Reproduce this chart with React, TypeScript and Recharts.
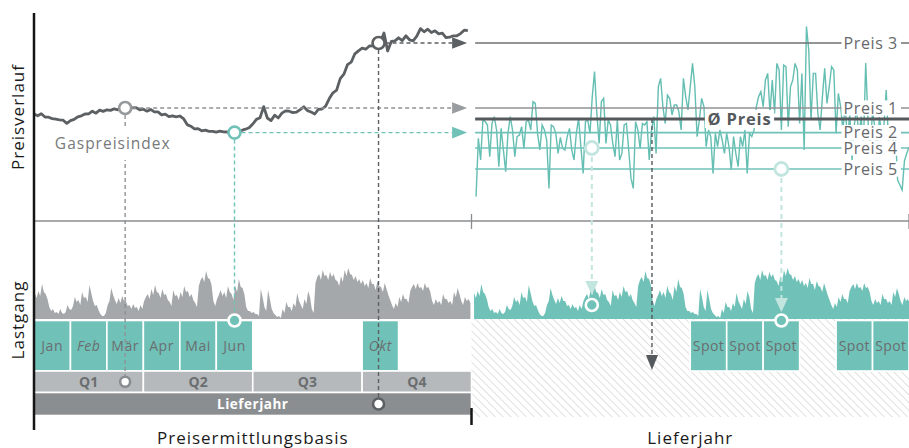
import React from 'react';
import {
  ComposedChart,
  Line,
  Area,
  XAxis,
  YAxis,
  ReferenceLine,
  ReferenceArea,
  ReferenceDot,
} from 'recharts';

// ---------------- data ----------------
// Gas price index during the price-finding year, one value every 0.1 month (months 0..11.9)
const indexPrices = [
  53.5, 52.6, 53.6, 52.0, 51.9, 51.2, 50.9, 50.6, 50.4, 48.8,
  50.2, 50.8, 52.1, 52.6, 53.5, 53.6, 54.9, 53.9, 55.4, 54.8,
  55.6, 55.3, 56.1, 55.6, 56.6, 56.5, 57.2, 56.6, 56.7, 55.6,
  55.9, 54.9, 55.8, 54.6, 54.6, 53.1, 53.4, 52.2, 52.6, 52.1,
  52.5, 51.2, 48.2, 47.4, 46.1, 46.2, 45.1, 45.4, 44.8, 44.8,
  44.4, 44.9, 44.6, 44.5, 43.8, 44.2, 44.9, 45.3, 45.9, 46.6,
  48.5, 50.8, 51.6, 57.2, 51.5, 50.2, 52.9, 51.5, 53.9, 55.1,
  54.9, 54.2, 54.4, 55.7, 57.1, 55.2, 54.5, 53.5, 55.8, 56.0,
  57.4, 61.2, 64.1, 65.4, 71.2, 73.4, 78.2, 79.4, 83.6, 85.1,
  86.4, 85.9, 87.5, 87.6, 88.5, 89.5, 94, 85, 89.8, 90.1,
  91.6, 90.2, 92.6, 90.6, 90.1, 92.4, 96.2, 94.6, 95.9, 94.2,
  95.1, 93.6, 93.9, 91.7, 91.9, 92.6, 92.6, 93.7, 95.4, 95.2,
];
const INDEX_STEP = 0.1;

// Spot prices in the delivery year, one value every 1/16 month from month 12.125 to 24
const spotPrices = [
  12.2, 41.3, 30.5, 50.5, 49.7, 48, 32.2, 48.8, 52.2, 45.5,
  27.2, 46.3, 35.5, 24.7, 43.8, 52.2, 45.5, 32.2, 42.2, 43,
  47.2, 36.3, 49.7, 50.5, 45.5, 59.7, 58.8, 43.8, 35.5, 48,
  45.5, 40.5, 16.3, 48, 47.2, 43.8, 33.8, 41.8, 36.3, 35.5,
  42.2, 46.3, 35.5, 30.5, 43.8, 51.3, 37.2, 23.8, 49.7, 50.5,
  43.8, 62.2, 74.7, 53.8, 38.8, 59.7, 61.3, 38.8, 50.5, 48,
  38.8, 32.2, 50.5, 30.5, 33.8, 48, 48.8, 35.5, 21.3, 16.3,
  49.7, 45.5, 36.3, 48.8, 48, 49.7, 30.5, 45.5, 52.2, 33.8,
  67.2, 71.3, 57.2, 48.8, 63, 61.3, 53, 58, 58, 54.7,
  45.5, 71.3, 62.2, 55.5,
  67.2, 78.8, 67.2, 42.2, 50.5, 61.3, 57.2, 37.2, 45.5, 42.2,
  23.8, 43.8, 37.2, 45.5, 40.5, 33.8, 43.8, 37.2, 25.5, 42.2,
  33.8, 27.2, 42.2, 37.2, 45.5, 23.8, 43.8, 42.2, 45.5, 57.2,
  62.2, 64.7, 57.2, 70.5, 73.8, 53.8, 70.5, 53.8, 78.8, 75.5,
  45.5, 78, 77.2, 47.2, 67.2, 70.5, 78.8, 75.5, 48.8, 73.8,
  35.5, 97.2, 85.5, 50.5, 73.8, 73.8, 53.8, 45.5, 62.2, 76.3,
  58.8, 67.2, 77.2, 75.5, 43.8, 63.8,
  57.2, 45.5, 58, 40.5, 53.8, 30.5, 48, 56, 42.2, 52.2,
  38, 79, 50.5, 36, 55, 47, 33, 52, 44, 48,
  65.5, 40, 46, 40, 45, 20.5, 18, 15.5, 30, 33.8, 37,
];
const SPOT_START = 12 + 2 / 16;
const SPOT_STEP = 1 / 16;

// Load profile (Lastgang), one value every 0.05 month; same profile in both years
const loadProfile = [
  26, 21, 28, 23, 35, 27, 25, 20, 12, 8, 10, 6, 7, 5, 10, 6, 5, 7, 14, 10,
  9, 13, 22, 17, 19, 14, 27, 21, 22, 17, 34, 26, 18, 13, 14, 9, 5, 3, 3, 6,
  14, 18, 31, 24, 19, 15, 21, 16, 23, 18, 18, 13, 14, 10, 15, 11, 12, 8, 14, 10,
  18, 22, 25, 20, 30, 24, 34, 27, 26, 21, 30, 24, 25, 19, 17, 13, 29, 23, 24, 19,
  27, 22, 33, 27, 28, 22, 25, 19, 16, 12, 33, 39, 42, 37, 48, 41, 40, 34, 18, 13,
  20, 24, 29, 23, 27, 21, 33, 27, 25, 19, 33, 27, 40, 32, 31, 25, 12, 8, 8, 6,
  7, 5, 5, 3, 30, 22, 12, 8, 29, 20, 10, 6, 4, 2, 3, 1, 10, 6, 17, 12,
  12, 8, 16, 12, 26, 18, 14, 10, 20, 15, 28, 22, 10, 6, 36, 42, 45, 39, 49, 43,
  44, 39, 47, 42, 45, 39, 38, 33, 43, 37, 49, 43, 51, 45, 44, 39, 43, 37, 40, 35,
  39, 33, 36, 31, 41, 35, 35, 29, 38, 33, 32, 27, 36, 30, 24, 19, 14, 10, 16, 12,
  22, 17, 25, 20, 20, 16, 28, 32, 35, 30, 36, 31, 32, 28, 36, 31, 32, 27, 18, 14,
  20, 16, 18, 14, 25, 20, 20, 16, 18, 14, 27, 22, 31, 25, 18, 14, 22, 18, 20, 16,
];
const LOAD_STEP = 0.05;
const LOAD_PAST_START = 0.02;
const LOAD_DELIVERY_START = 12.07;

const monthLabels = ['Jan', 'Feb', 'Mär', 'Apr', 'Mai', 'Jun', 'Jul', 'Aug', 'Sep', 'Okt', 'Nov', 'Dez'];
const purchasedMonths = ['Jan', 'Feb', 'Mär', 'Apr', 'Mai', 'Jun', 'Okt'];
const italicMonths = ['Feb', 'Okt'];
const quarterLabels = ['Q1', 'Q2', 'Q3', 'Q4'];
const spotMonths = ['Jul', 'Aug', 'Sep', 'Nov', 'Dez'];
const monthTicks = Array.from({ length: 25 }, (_, i) => i);

// fixing dates on the index (months) -> Preis 1, Preis 2, Preis 3
const fixingMonths = [2.5, 5.5, 9.45];
const preis4 = 36.5;
const preis5 = 26;
const avgPrice = 51;
// spot fixing months for Preis 4 / Preis 5, and the month where the average is used
const spotFixMonths = [15.3, 20.5];
const avgMonth = 16.95;

// ---------------- layout (shared price/layout axis units) ----------------
const Y_MIN = -98;
const Y_MAX = 104;
const HATCH_TOP = -49;
const MONTH_TOP = -49.75;
const MONTH_BOTTOM = -75;
const Q_BOTTOM = -85.75;
const YEAR_BOTTOM = -97.25;

const FONT = '"Open Sans", "Noto Sans", sans-serif';
const TEAL = '#70c2b8';
const TEAL_LINE = '#64beb2';
const TEAL_LIGHT = '#c3e5e0';
const DARK = '#5c6063';
const GRAY_MID = '#8f9294';
const GRAY_LOAD = '#a5a8aa';
const Q_FILL = '#b6b9bb';
const YEAR_FILL = '#8b8e90';
const TEXT_GRAY = '#6b6e70';

// ---------------- build table ----------------
type Row = { m: number; index?: number; spot?: number; loadPast?: number; loadDelivery?: number };
const rowMap = new Map<string, Row>();
const put = (m: number, key: keyof Row, v: number) => {
  const k = m.toFixed(4);
  let r = rowMap.get(k);
  if (!r) {
    r = { m: Number(m.toFixed(4)) };
    rowMap.set(k, r);
  }
  (r as any)[key] = v;
};
indexPrices.forEach((v, i) => put(i * INDEX_STEP, 'index', v));
loadProfile.forEach((v, i) => {
  put(LOAD_PAST_START + i * LOAD_STEP, 'loadPast', v);
  put(LOAD_DELIVERY_START + i * LOAD_STEP, 'loadDelivery', v);
});
spotPrices.forEach((v, i) => put(SPOT_START + i * SPOT_STEP, 'spot', v));
const rows = Array.from(rowMap.values()).sort((a, b) => a.m - b.m);

const valueAt = (arr: number[], start: number, step: number, m: number) => {
  const t = (m - start) / step;
  const i = Math.max(0, Math.min(arr.length - 1, Math.floor(t)));
  const f = t - i;
  const j = Math.min(arr.length - 1, i + 1);
  return arr[i] * (1 - f) + arr[j] * f;
};

// ---------------- shapes ----------------
type ArrowOpts = { color: string; dash?: string; width?: number; head?: number; headW?: number; headColor?: string };
const arrowShape = (o: ArrowOpts) => (p: any) => {
  const x1 = Number(p.x1), y1 = Number(p.y1), x2 = Number(p.x2), y2 = Number(p.y2);
  const head = o.head ?? 0;
  const hw = o.headW ?? 6;
  const dx = x2 - x1;
  const dy = y2 - y1;
  const len = Math.hypot(dx, dy) || 1;
  const ux = dx / len;
  const uy = dy / len;
  const bx = x2 - ux * head;
  const by = y2 - uy * head;
  const px = -uy;
  const py = ux;
  return (
    <g>
      <line
        x1={x1}
        y1={y1}
        x2={head ? bx : x2}
        y2={head ? by : y2}
        stroke={o.color}
        strokeWidth={o.width ?? 1.4}
        strokeDasharray={o.dash}
      />
      {head > 0 && (
        <polygon
          points={`${x2},${y2} ${bx + px * hw},${by + py * hw} ${bx - px * hw},${by - py * hw}`}
          fill={o.headColor ?? o.color}
        />
      )}
    </g>
  );
};

type TextOpts = {
  fill: string;
  color: string;
  size: number;
  weight?: number;
  italic?: boolean;
  align?: 'start' | 'middle';
  pad?: number;
  ls?: number;
  stroke?: string;
};
const boxShape = (text: string, o: TextOpts) => (p: any) => {
  const x = Number(p.x), y = Number(p.y), w = Number(p.width), h = Number(p.height);
  return (
    <g>
      <rect x={x} y={y} width={w} height={h} fill={o.fill} stroke={o.stroke ?? 'none'} strokeWidth={o.stroke ? 1.6 : 0} />
      {text ? (
        <text
          x={o.align === 'start' ? x + (o.pad ?? 2) : x + w / 2}
          y={y + h / 2}
          dy="0.36em"
          textAnchor={o.align ?? 'middle'}
          fontFamily={FONT}
          fontSize={o.size}
          fontWeight={o.weight ?? 400}
          fontStyle={o.italic ? 'italic' : 'normal'}
          letterSpacing={o.ls ?? 0}
          fill={o.color}
        >
          {text}
        </text>
      ) : null}
    </g>
  );
};

const hatchShape = (p: any) => (
  <g>
    <defs>
      <pattern id="hatchPattern" patternUnits="userSpaceOnUse" width="5.5" height="5.5" patternTransform="rotate(-45)">
        <rect width="5.5" height="5.5" fill="#ffffff" />
        <line x1="0" y1="0" x2="0" y2="5.5" stroke="#d9d9d9" strokeWidth="1.6" />
      </pattern>
    </defs>
    <rect x={p.x} y={p.y} width={p.width} height={p.height} fill="url(#hatchPattern)" />
  </g>
);

const titleShape = (text: string, rotate: boolean) => (p: any) => (
  <text
    x={p.cx}
    y={p.cy}
    dy="0.36em"
    textAnchor="middle"
    transform={rotate ? `rotate(-90 ${p.cx} ${p.cy})` : undefined}
    fontFamily={FONT}
    fontSize={17}
    letterSpacing={1}
    fill="#1a1a1a"
  >
    {text}
  </text>
);

export default function App() {
  const fixPrices = fixingMonths.map((m) => valueAt(indexPrices, 0, INDEX_STEP, m));
  const [preis1, preis2, preis3] = fixPrices;
  const ARROW_END = 11.88;
  const RIGHT_START = 12.1;
  const LABEL_X1 = 22.15;
  const LABEL_X2 = 23.78;
  const Q_MID = (MONTH_BOTTOM + Q_BOTTOM) / 2;
  const YEAR_MID = (Q_BOTTOM + YEAR_BOTTOM) / 2;

  const fixColors = [GRAY_MID, TEAL, DARK];
  const fixTargets = [Q_MID, MONTH_TOP, YEAR_MID];

  const rightLines = [
    { name: 'Preis 3', v: preis3, color: '#6e7173', w: 1.6 },
    { name: 'Preis 1', v: preis1, color: '#8f9294', w: 1.6 },
    { name: 'Preis 2', v: preis2, color: TEAL, w: 1.6 },
    { name: 'Preis 4', v: preis4, color: TEAL, w: 1.6 },
    { name: 'Preis 5', v: preis5, color: TEAL, w: 1.6 },
  ];

  return (
    <div style={{ position: 'absolute', left: 0, top: 0, width: 909, height: 448, background: '#fff' }}>
      <ComposedChart width={909} height={448} data={rows} margin={{ top: 13, right: 0, bottom: 31, left: 34 }}>
        <XAxis
          dataKey="m"
          type="number"
          domain={[0, 24]}
          allowDataOverflow
          ticks={monthTicks}
          interval={0}
          tick={false}
          tickSize={8}
          height={0}
          axisLine={{ stroke: '#151515', strokeWidth: 2.5 }}
          tickLine={{ stroke: '#151515', strokeWidth: 2.5 }}
        />
        <YAxis yAxisId="p" type="number" domain={[Y_MIN, Y_MAX]} allowDataOverflow hide />
        <YAxis yAxisId="load" type="number" domain={[-98, 306]} allowDataOverflow hide />

        {/* hatched delivery area */}
        <ReferenceArea yAxisId="p" x1={12} x2={24} y1={Y_MIN} y2={HATCH_TOP} shape={hatchShape} zIndex={10} />

        {/* load profiles */}
        <Area
          yAxisId="load"
          dataKey="loadPast"
          type="linear"
          stroke="none"
          fill={GRAY_LOAD}
          fillOpacity={1}
          baseValue={0}
          connectNulls
          dot={false}
          activeDot={false}
          isAnimationActive={false}
          zIndex={20}
        />
        <Area
          yAxisId="load"
          dataKey="loadDelivery"
          type="linear"
          stroke="none"
          fill={TEAL}
          fillOpacity={1}
          baseValue={0}
          connectNulls
          dot={false}
          activeDot={false}
          isAnimationActive={false}
          zIndex={20}
        />

        {/* month boxes */}
        {monthLabels.map((lab, i) =>
          purchasedMonths.includes(lab) ? (
            <ReferenceArea
              key={'mb' + lab}
              yAxisId="p"
              x1={i}
              x2={i + 1}
              y1={MONTH_BOTTOM}
              y2={MONTH_TOP}
              zIndex={30}
              shape={boxShape(lab, {
                fill: TEAL,
                stroke: '#fff',
                color: TEXT_GRAY,
                size: 14,
                ls: 0.6,
                italic: italicMonths.includes(lab),
              })}
            />
          ) : null
        )}
        {quarterLabels.map((q, i) => (
          <ReferenceArea
            key={'q' + q}
            yAxisId="p"
            x1={i * 3}
            x2={i * 3 + 3}
            y1={Q_BOTTOM}
            y2={MONTH_BOTTOM}
            zIndex={30}
            shape={boxShape(q, { fill: Q_FILL, stroke: '#fff', color: TEXT_GRAY, size: 14, weight: 700 })}
          />
        ))}
        <ReferenceArea
          yAxisId="p"
          x1={0}
          x2={12}
          y1={YEAR_BOTTOM}
          y2={Q_BOTTOM}
          zIndex={30}
          shape={boxShape('Lieferjahr', { fill: YEAR_FILL, stroke: '#fff', color: '#ffffff', size: 13.5, weight: 700, ls: 0.5 })}
        />
        {spotMonths.map((lab) => {
          const i = monthLabels.indexOf(lab) + 12;
          return (
            <ReferenceArea
              key={'s' + lab}
              yAxisId="p"
              x1={i}
              x2={i + 1}
              y1={MONTH_BOTTOM}
              y2={MONTH_TOP}
              zIndex={30}
              shape={boxShape('Spot', { fill: TEAL, stroke: '#fff', color: TEXT_GRAY, size: 14, ls: 0.4 })}
            />
          );
        })}

        {/* divider between panels */}
        <ReferenceLine yAxisId="p" y={0} stroke="#8a8d8f" strokeWidth={1.5} zIndex={40} />
        <ReferenceLine
          yAxisId="p"
          segment={[{ x: 12, y: 3.5 }, { x: 12, y: -4 }]}
          stroke="#8a8d8f"
          strokeWidth={1.3}
          zIndex={40}
        />
        <ReferenceLine
          yAxisId="p"
          segment={[{ x: 24, y: 3.5 }, { x: 24, y: -4 }]}
          stroke="#8a8d8f"
          strokeWidth={1.3}
          zIndex={40}
        />

        {/* spot price line */}
        <Line
          yAxisId="p"
          dataKey="spot"
          type="linear"
          stroke={TEAL_LINE}
          strokeWidth={1.4}
          dot={false}
          activeDot={false}
          connectNulls
          isAnimationActive={false}
          zIndex={50}
        />

        {/* price levels in delivery year */}
        {rightLines.map((l) => (
          <ReferenceLine
            key={'rl' + l.name}
            yAxisId="p"
            segment={[{ x: RIGHT_START, y: l.v }, { x: 24, y: l.v }]}
            stroke={l.color}
            strokeWidth={l.w}
            zIndex={60}
          />
        ))}
        <ReferenceLine
          yAxisId="p"
          segment={[{ x: RIGHT_START, y: avgPrice }, { x: 24, y: avgPrice }]}
          stroke="#55595c"
          strokeWidth={3}
          zIndex={60}
        />
        {rightLines.map((l) => (
          <ReferenceArea
            key={'lb' + l.name}
            yAxisId="p"
            x1={LABEL_X1}
            x2={LABEL_X2}
            y1={l.v - 3.8}
            y2={l.v + 3.8}
            zIndex={65}
            shape={boxShape(l.name, { fill: '#fff', color: '#66696b', size: 16, align: 'start', pad: 2, ls: 0.6 })}
          />
        ))}
        <ReferenceArea
          yAxisId="p"
          x1={18.4}
          x2={20.3}
          y1={avgPrice - 4.5}
          y2={avgPrice + 4.5}
          zIndex={65}
          shape={boxShape('Ø Preis', { fill: '#fff', color: '#55595c', size: 16.5, weight: 700, ls: 0.8 })}
        />

        {/* gas price index */}
        <Line
          yAxisId="p"
          dataKey="index"
          type="linear"
          stroke={DARK}
          strokeWidth={2.8}
          strokeLinejoin="round"
          dot={false}
          activeDot={false}
          connectNulls
          isAnimationActive={false}
          zIndex={70}
        />

        {/* connectors from index fixings */}
        {fixingMonths.map((m, i) => (
          <ReferenceLine
            key={'h' + i}
            yAxisId="p"
            segment={[{ x: m, y: fixPrices[i] }, { x: ARROW_END, y: fixPrices[i] }]}
            zIndex={80}
            shape={arrowShape({
              color: fixColors[i],
              dash: '4 3',
              width: 1.4,
              head: 15,
              headW: 5.8,
              headColor: i === 0 ? '#9a9d9f' : fixColors[i],
            })}
          />
        ))}
        {fixingMonths.map((m, i) => (
          <ReferenceLine
            key={'v' + i}
            yAxisId="p"
            segment={[{ x: m, y: fixPrices[i] }, { x: m, y: fixTargets[i] }]}
            zIndex={80}
            shape={arrowShape({ color: fixColors[i], dash: '4 3', width: 1.4 })}
          />
        ))}
        <ReferenceLine
          yAxisId="p"
          segment={[{ x: spotFixMonths[0], y: preis4 }, { x: spotFixMonths[0], y: -37 }]}
          zIndex={80}
          shape={arrowShape({ color: TEAL_LIGHT, dash: '5 4', width: 2, head: 14, headW: 6.5 })}
        />
        <ReferenceLine
          yAxisId="p"
          segment={[{ x: spotFixMonths[1], y: preis5 }, { x: spotFixMonths[1], y: -45.5 }]}
          zIndex={80}
          shape={arrowShape({ color: TEAL_LIGHT, dash: '5 4', width: 2, head: 14, headW: 6.5 })}
        />
        <ReferenceLine
          yAxisId="p"
          segment={[{ x: avgMonth, y: avgPrice }, { x: avgMonth, y: -74.5 }]}
          zIndex={80}
          shape={arrowShape({ color: '#55595c', dash: '4 3', width: 1.4, head: 15, headW: 6 })}
        />

        {/* circles */}
        {fixingMonths.map((m, i) => (
          <ReferenceDot
            key={'c' + i}
            yAxisId="p"
            x={m}
            y={fixPrices[i]}
            r={6}
            fill="#fff"
            stroke={i === 0 ? '#96999b' : fixColors[i]}
            strokeWidth={2.6}
            zIndex={90}
          />
        ))}
        <ReferenceDot yAxisId="p" x={spotFixMonths[0]} y={preis4} r={6.5} fill="#fff" stroke={TEAL_LIGHT} strokeWidth={2.8} zIndex={90} />
        <ReferenceDot yAxisId="p" x={spotFixMonths[1]} y={preis5} r={6.5} fill="#fff" stroke={TEAL_LIGHT} strokeWidth={2.8} zIndex={90} />
        <ReferenceDot yAxisId="p" x={fixingMonths[0]} y={Q_MID} r={5} fill="#fff" stroke="#8a8d90" strokeWidth={2.6} zIndex={90} />
        <ReferenceDot yAxisId="p" x={fixingMonths[1]} y={MONTH_TOP} r={6} fill={TEAL} stroke="#fff" strokeWidth={2.6} zIndex={90} />
        <ReferenceDot yAxisId="p" x={fixingMonths[2]} y={YEAR_MID} r={5.5} fill="#fff" stroke={DARK} strokeWidth={2.6} zIndex={90} />
        <ReferenceDot yAxisId="p" x={spotFixMonths[0]} y={-42} r={6} fill={TEAL} stroke="#fff" strokeWidth={2.6} zIndex={90} />
        <ReferenceDot yAxisId="p" x={spotFixMonths[1]} y={MONTH_TOP} r={6} fill={TEAL} stroke="#fff" strokeWidth={2.6} zIndex={90} />

        {/* Gaspreisindex label */}
        <ReferenceArea
          yAxisId="p"
          x1={0.49}
          x2={3.9}
          y1={30.5}
          y2={47.5}
          zIndex={95}
          shape={boxShape('Gaspreisindex', { fill: '#fff', color: '#77797b', size: 15.5, align: 'start', pad: 3, ls: 1 })}
        />

        {/* axes decorations */}
        <ReferenceLine
          yAxisId="p"
          segment={[{ x: 0, y: Y_MAX }, { x: 0, y: -104.5 }]}
          ifOverflow="visible"
          stroke="#151515"
          strokeWidth={2.5}
          zIndex={100}
        />
        <ReferenceLine
          yAxisId="p"
          segment={[{ x: 12, y: -93.5 }, { x: 12, y: -102 }]}
          ifOverflow="visible"
          stroke="#151515"
          strokeWidth={2.5}
          zIndex={100}
        />

        {/* titles */}
        <ReferenceDot yAxisId="p" x={-0.44} y={52} ifOverflow="visible" zIndex={100} shape={titleShape('Preisverlauf', true)} />
        <ReferenceDot yAxisId="p" x={-0.44} y={-49.5} ifOverflow="visible" zIndex={100} shape={titleShape('Lastgang', true)} />
        <ReferenceDot yAxisId="p" x={6} y={-108.5} ifOverflow="visible" zIndex={100} shape={titleShape('Preisermittlungsbasis', false)} />
        <ReferenceDot yAxisId="p" x={18} y={-108.5} ifOverflow="visible" zIndex={100} shape={titleShape('Lieferjahr', false)} />
      </ComposedChart>
    </div>
  );
}
